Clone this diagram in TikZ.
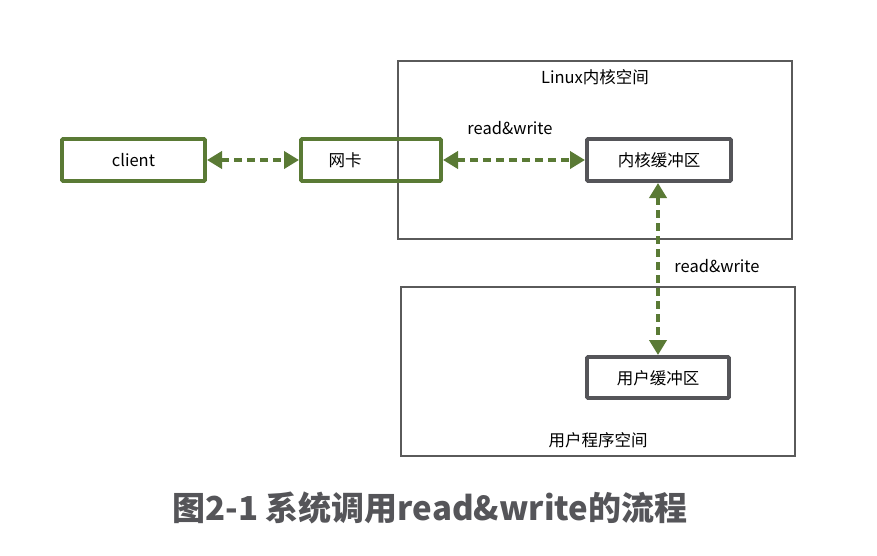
\documentclass[tikz,border=0pt]{standalone}
\usepackage{fontspec}
\setmainfont{Noto Sans CJK SC}
\usetikzlibrary{arrows.meta}
\definecolor{grn}{HTML}{5A7A35}
\definecolor{dgray}{HTML}{555559}
\definecolor{lgray}{HTML}{5A5A5A}
\tikzset{
  area/.style={draw=lgray, line width=1.2pt},
  gbox/.style={draw=grn, line width=3.8pt, rounded corners=1pt},
  kbox/.style={draw=dgray, line width=3.8pt, rounded corners=1pt},
  lbl/.style={font=\fontsize{16.5}{19}\selectfont, text=black, inner sep=0pt},
  dconn/.style={draw=grn, line width=4.2pt, dash pattern=on 8pt off 5pt,
    {Triangle[length=15pt,width=17pt]}-{Triangle[length=15pt,width=17pt]}, shorten <=2pt, shorten >=2pt}
}
\begin{document}
\begin{tikzpicture}[x=1pt,y=-1pt]
\useasboundingbox[fill=white] (0,0) rectangle (877,555);
% areas
\draw[area] (398,61) rectangle (792,239);
\draw[area] (401,287) rectangle (795,456);
\node[lbl] (tk) at (595,77) {Linux内核空间};
\node[lbl] (tu) at (598,440) {用户程序空间};
% boxes
\draw[gbox] (62,139) rectangle (205,181);
\node[lbl] (client) at (133.5,160) {client};
\coordinate (cR) at (205,160);
\draw[gbox] (301,139) rectangle (441,181);
\node[lbl] (nic) at (345,160) {网卡};
\coordinate (nL) at (301,160);
\coordinate (nR) at (441,160);
\draw[kbox] (587,139) rectangle (731,181);
\node[lbl] (kb) at (659,160) {内核缓冲区};
\coordinate (kL) at (587,160);
\coordinate (kB) at (658,181);
\draw[kbox] (587,357) rectangle (729,398);
\node[lbl] (ub) at (658,378) {用户缓冲区};
\coordinate (uT) at (658,357);
% connectors
\draw[dconn] (cR) -- (nL);
\draw[dconn] (nR) -- (kL);
\draw[dconn] (kB) -- (uT);
\node[lbl] (rw1) at (510,128) {read\&write};
\node[lbl] (rw2) at (717,266) {read\&write};
% title
\node[font=\fontsize{33}{38}\selectfont\bfseries, text=dgray, inner sep=0pt] (title) at (430,508) {图2-1 系统调用read\&write的流程};
\end{tikzpicture}
\end{document}
